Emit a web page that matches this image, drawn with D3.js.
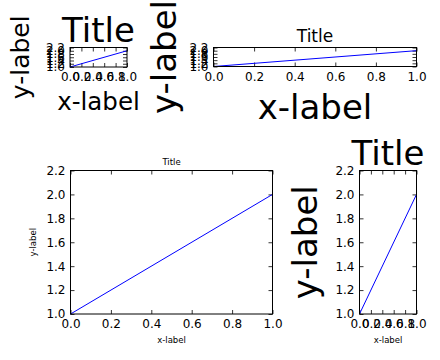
<!DOCTYPE html>
<html>
<head>
<meta charset="utf-8">
<script src="https://cdn.jsdelivr.net/npm/d3@7"></script>
<style>
  html, body { margin: 0; padding: 0; background: #fff; }
  svg { display: block; font-family: "DejaVu Sans", sans-serif; }
</style>
</head>
<body>
<svg id="chart" width="440" height="360"></svg>
<script>
// ---- data ----
const xValues = [0, 1];
const yValues = [1, 2];
const xTicks = [0, 0.2, 0.4, 0.6, 0.8, 1.0];
const yTicks = [1.0, 1.2, 1.4, 1.6, 1.8, 2.0, 2.2];
const xDomain = [0, 1];
const yDomain = [1.0, 2.2];
const titleText = "Title";
const xLabelText = "x-label";
const yLabelText = "y-label";

// ---- layout / styles per panel ----
const panels = [
  { left: 70,  right: 127, top: 47.5, bottom: 67,  titleSize: 34, xlabSize: 24.5, ylabSize: 25, yLabOff: 41.5, xLabOff: 43 },
  { left: 213.5, right: 416.5, top: 47.5, bottom: 66.5, titleSize: 17, xlabSize: 34, ylabSize: 34, yLabOff: 37.5, xLabOff: 52 },
  { left: 70.5, right: 272.5, top: 170.5, bottom: 314, titleSize: 8.5, xlabSize: 8.5, ylabSize: 8.5, yLabOff: 34.5, xLabOff: 29.3 },
  { left: 359.5, right: 416.5, top: 170.5, bottom: 314, titleSize: 34, xlabSize: 8.5, ylabSize: 34, yLabOff: 42.5, xLabOff: 29.3 }
];
const tickFont = 12;
const fmt = d3.format(".1f");

const svg = d3.select("#chart");

panels.forEach(p => {
  const x = d3.scaleLinear().domain(xDomain).range([p.left, p.right]);
  const y = d3.scaleLinear().domain(yDomain).range([p.bottom, p.top]);
  const g = svg.append("g");

  const styleAxis = sel => {
    sel.select(".domain").remove();
    sel.selectAll(".tick line").attr("stroke", "#000").attr("stroke-width", 0.8);
    sel.selectAll(".tick text").attr("fill", "#000")
      .style("font-family", "DejaVu Sans").style("font-size", tickFont + "px");
    sel.attr("font-family", null).attr("font-size", null);
  };

  g.append("g").attr("transform", `translate(0,${p.bottom})`)
    .call(d3.axisBottom(x).tickValues(xTicks).tickFormat(fmt).tickSizeInner(-4).tickSizeOuter(0).tickPadding(5.5))
    .call(styleAxis);
  g.append("g").attr("transform", `translate(0,${p.top})`)
    .call(d3.axisTop(x).tickValues(xTicks).tickFormat("").tickSizeInner(-4).tickSizeOuter(0))
    .call(styleAxis);
  g.append("g").attr("transform", `translate(${p.left},0)`)
    .call(d3.axisLeft(y).tickValues(yTicks).tickFormat(fmt).tickSizeInner(-4).tickSizeOuter(0).tickPadding(5))
    .call(styleAxis);
  g.append("g").attr("transform", `translate(${p.right},0)`)
    .call(d3.axisRight(y).tickValues(yTicks).tickFormat("").tickSizeInner(-4).tickSizeOuter(0))
    .call(styleAxis);

  const line = d3.line().x((d, i) => x(xValues[i])).y(d => y(d));
  g.append("path").datum(yValues)
    .attr("d", line).attr("fill", "none").attr("stroke", "#0000ff").attr("stroke-width", 1);

  g.append("rect")
    .attr("x", p.left).attr("y", p.top)
    .attr("width", p.right - p.left).attr("height", p.bottom - p.top)
    .attr("fill", "none").attr("stroke", "#000").attr("stroke-width", 1);

  g.append("text").text(titleText)
    .attr("x", (p.left + p.right) / 2).attr("y", p.top - 6)
    .attr("text-anchor", "middle").style("font-size", p.titleSize + "px");

  g.append("text").text(xLabelText)
    .attr("x", (p.left + p.right) / 2).attr("y", p.bottom + p.xLabOff)
    .attr("text-anchor", "middle").style("font-size", p.xlabSize + "px");

  const yc = (p.top + p.bottom) / 2;
  const yx = p.left - p.yLabOff;
  g.append("text").text(yLabelText)
    .attr("transform", `translate(${yx},${yc}) rotate(-90)`)
    .attr("text-anchor", "middle").style("font-size", p.ylabSize + "px");
});
</script>
</body>
</html>
